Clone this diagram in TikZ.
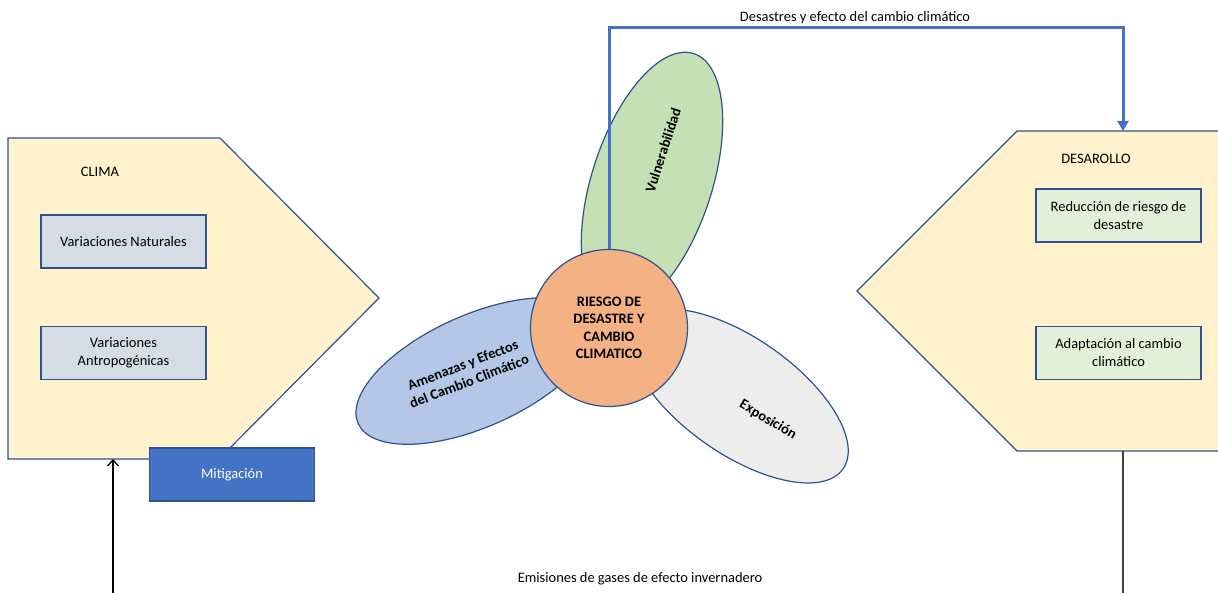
\documentclass[tikz,border=0pt]{standalone}
\usepackage{fontspec}
\setmainfont{Carlito}
\usepackage{xcolor}
\usetikzlibrary{positioning, arrows.meta, shapes.geometric}

\definecolor{zonefill}{HTML}{FFF2CC}
\definecolor{edgeblue}{HTML}{2F528F}
\definecolor{greyblue}{HTML}{D6DCE5}
\definecolor{palegreen}{HTML}{E2F0D9}
\definecolor{accent}{HTML}{4472C4}
\definecolor{leafgreen}{HTML}{C5E0B4}
\definecolor{leafblue}{HTML}{B4C7E7}
\definecolor{leafgrey}{HTML}{EDEDED}
\definecolor{coreorange}{HTML}{F4B183}

\begin{document}
\begin{tikzpicture}[
    x=1bp, y=-1bp,
    font=\fontsize{14.5}{17.5}\selectfont,
    node distance=57bp,
    zone/.style={draw=edgeblue, fill=zonefill, line width=1.2bp},
    item/.style={rectangle, draw=edgeblue, line width=1.2bp, minimum width=165bp, minimum height=53bp, align=center, inner sep=2bp},
    petal/.style={ellipse, draw=edgeblue, line width=1.2bp, inner sep=0pt},
    core/.style={circle, draw=edgeblue, line width=1.2bp, fill=coreorange, minimum size=157bp, align=center, font=\fontsize{14.5}{17.5}\selectfont\bfseries},
    tag/.style={font=\fontsize{14.5}{17.5}\selectfont\bfseries, align=center},
    flow/.style={-{Triangle[width=11bp,length=10bp]}, draw=accent, line width=3bp},
    emis/.style={line width=1.3bp}
]

\useasboundingbox (0,0) rectangle (1218,593);

% clima block
\draw[zone] (8,138) -- (220,138) -- (379,298) -- (219,459) -- (8,459) -- cycle;
\coordinate (climaBot) at (113,459);
\node (clima) at (100,172) {CLIMA};
\node[item, fill=greyblue] (natur) at (123.5,241.5) {Variaciones Naturales};
\node[item, fill=greyblue, below=of natur] (antro) {Variaciones\\Antropogénicas};
\node[item, fill=accent, text=white] (mitig) at (232,474.5) {Mitigación};

% desarrollo block
\draw[zone] (1240,131) -- (1017,131) -- (857,291) -- (1017,451) -- (1240,451);
\coordinate (desaTop) at (1123,131);
\coordinate (desaBot) at (1123,451);
\node (desa) at (1096,159) {DESAROLLO};
\node[item, fill=palegreen] (reduc) at (1118.5,215.5) {Reducción de riesgo de\\desastre};
\node[item, fill=palegreen, below=83bp of reduc] (adapt) {Adaptación al cambio\\climático};

% petals
\node[petal, fill=leafgreen, minimum width=270bp, minimum height=120bp, rotate=72] (vuln) at (652,182) {};
\node[petal, fill=leafblue, minimum width=258bp, minimum height=112bp, rotate=24] (amen) at (476,371) {};
\node[petal, fill=leafgrey, minimum width=254bp, minimum height=116bp, rotate=-35] (expo) at (739,396) {};
\node[tag, rotate=72] (vulnT) at (663,150) {Vulnerabilidad};
\node[tag, rotate=21] (amenT) at (466,373) {Amenazas y Efectos\\del Cambio Climático};
\node[tag, rotate=-31] (expoT) at (768,420) {Exposición};

\node[core] (riesgo) at (609,328) {RIESGO DE\\DESASTRE Y\\CAMBIO\\CLIMATICO};

% connectors
\draw[flow] (riesgo.north) -- ++(0,-221) -| (desaTop);
\node (desast) at (855,18) {Desastres y efecto del cambio climático};

\coordinate (emisR) at (1123,593);
\coordinate (emisL) at (113,593);
\draw[emis, draw=black!75, line width=2bp] (desaBot) -- (emisR);
\draw[emis, -{Straight Barb[width=11bp,length=6bp]}] (emisL) -- (climaBot);
\node (emision) at (640,579) {Emisiones de gases de efecto invernadero};

\end{tikzpicture}
\end{document}
